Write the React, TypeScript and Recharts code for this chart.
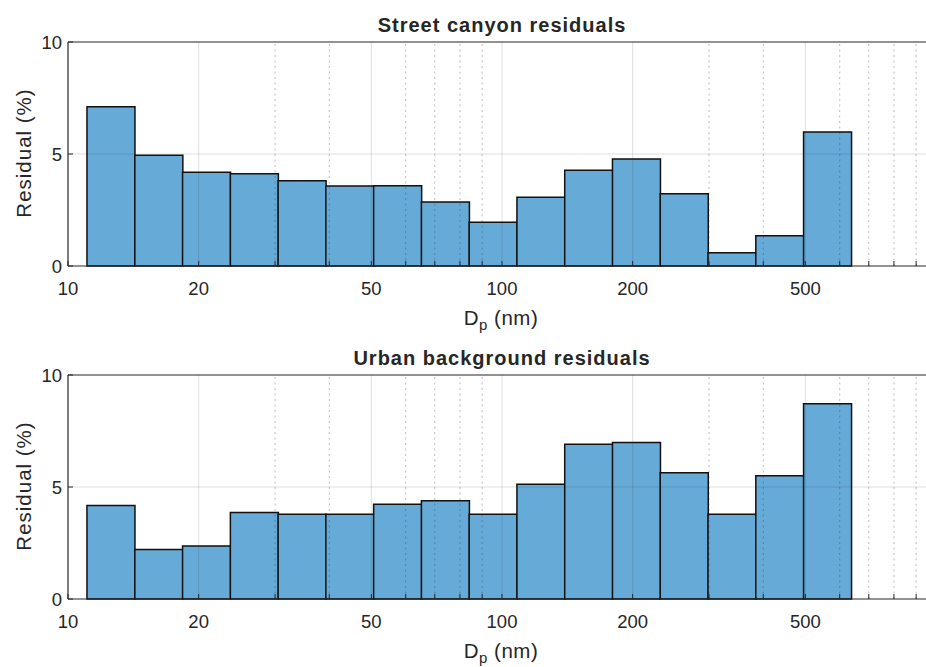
import React from 'react';
import { BarChart, Bar, XAxis, YAxis, ReferenceLine } from 'recharts';

// bin centres (nm), log-spaced histogram bins
const diameters = [12.55, 16.18, 20.84, 26.86, 34.6, 44.58, 57.44, 74.01, 95.35, 122.85, 158.3, 203.94, 262.8, 338.59, 436.28, 562.08];
const streetCanyon = [7.11, 4.94, 4.18, 4.12, 3.81, 3.57, 3.58, 2.86, 1.95, 3.07, 4.27, 4.78, 3.23, 0.59, 1.35, 5.98];
const urbanBackground = [4.17, 2.21, 2.37, 3.86, 3.78, 3.78, 4.23, 4.39, 3.78, 5.12, 6.91, 6.99, 5.64, 3.78, 5.5, 8.72];

const majorTicks = [10, 20, 50, 100, 200, 500];
const minorTicks = [30, 40, 60, 70, 80, 90, 300, 400, 600, 700, 800, 900];
const allTicks = [10, 20, 30, 40, 50, 60, 70, 80, 90, 100, 200, 300, 400, 500, 600, 700, 800, 900, 1000];
const yTicks = [0, 5, 10];

const FONT = "'Liberation Sans', Arial, Helvetica, sans-serif";
const AXIS = '#262626';
const BAR_FILL = '#66aad7';

const CHART_W = 960;
const CHART_H = 330;

function Panel({ values }: { values: number[] }) {
  const data = diameters.map((d, i) => ({ logD: Math.log10(d), value: values[i] }));
  const xTicks = allTicks.map((t) => Math.log10(t));

  const formatX = (v: number) => {
    const n = Math.round(Math.pow(10, v));
    return majorTicks.includes(n) ? String(n) : '';
  };

  // grid sits on top of the bars, like matlab's translucent grid
  const gridProps: any = { zIndex: 1000 };

  return (
    <BarChart
      width={CHART_W}
      height={CHART_H}
      data={data}
      margin={{ top: 41, right: 24, bottom: 0, left: 8 }}
      barCategoryGap={0}
      barGap={0}
    >
      <XAxis
        type="number"
        dataKey="logD"
        domain={[1, 3]}
        allowDataOverflow
        ticks={xTicks}
        interval={0}
        tickFormatter={formatX}
        tickSize={-5}
        tickMargin={21}
        height={64}
        axisLine={{ stroke: AXIS, strokeWidth: 1.2 }}
        tickLine={{ stroke: AXIS, strokeWidth: 1 }}
        tick={{ fill: AXIS, fontSize: 18.5, fontFamily: FONT }}
      />
      <XAxis
        xAxisId="top"
        orientation="top"
        type="number"
        dataKey="logD"
        domain={[1, 3]}
        allowDataOverflow
        ticks={xTicks}
        interval={0}
        tick={false}
        tickSize={-5}
        height={1}
        axisLine={{ stroke: AXIS, strokeWidth: 1.2 }}
        tickLine={{ stroke: AXIS, strokeWidth: 1 }}
      />
      <YAxis
        type="number"
        domain={[0, 10]}
        ticks={yTicks}
        interval={0}
        width={60}
        tickSize={-5}
        tickMargin={11}
        axisLine={{ stroke: AXIS, strokeWidth: 1.2 }}
        tickLine={{ stroke: AXIS, strokeWidth: 1 }}
        tick={{ fill: AXIS, fontSize: 18.5, fontFamily: FONT }}
      />
      <Bar
        dataKey="value"
        fill={BAR_FILL}
        stroke="#111"
        strokeWidth={1.5}
        isAnimationActive={false}
      />
      {minorTicks.map((t) => (
        <ReferenceLine
          key={'m' + t}
          x={Math.log10(t)}
          stroke={AXIS}
          strokeOpacity={0.3}
          strokeDasharray="2 3.5"
          {...gridProps}
        />
      ))}
      {majorTicks.slice(1).map((t) => (
        <ReferenceLine key={'M' + t} x={Math.log10(t)} stroke={AXIS} strokeOpacity={0.15} {...gridProps} />
      ))}
      <ReferenceLine y={5} stroke={AXIS} strokeOpacity={0.15} {...gridProps} />
    </BarChart>
  );
}

function Labels({ title, top }: { title: string; top: number }) {
  return (
    <g transform={`translate(0, ${top})`} fill={AXIS} fontFamily={FONT}>
      <text x={502} y={32} textAnchor="middle" fontSize={20} fontWeight="bold" letterSpacing={1}>
        {title}
      </text>
      <text x={501} y={325} textAnchor="middle" fontSize={20.5} letterSpacing={0.5}>
        D<tspan fontSize={15} dy={5}>p</tspan>
        <tspan dy={-5}> (nm)</tspan>
      </text>
      <text
        x={0}
        y={0}
        transform="translate(31, 153) rotate(-90)"
        textAnchor="middle"
        fontSize={20.5}
        letterSpacing={1}
      >
        Residual (%)
      </text>
    </g>
  );
}

export default function App() {
  return (
    <div
      style={{
        position: 'absolute',
        left: 0,
        top: 0,
        width: 926,
        height: 667,
        overflow: 'hidden',
        background: '#fff',
      }}
    >
      <div style={{ position: 'absolute', left: 0, top: 0 }}>
        <Panel values={streetCanyon} />
      </div>
      <div style={{ position: 'absolute', left: 0, top: 333 }}>
        <Panel values={urbanBackground} />
      </div>
      <svg
        width={926}
        height={667}
        style={{ position: 'absolute', left: 0, top: 0, pointerEvents: 'none' }}
      >
        <Labels title="Street canyon residuals" top={0} />
        <Labels title="Urban background residuals" top={333} />
      </svg>
    </div>
  );
}
